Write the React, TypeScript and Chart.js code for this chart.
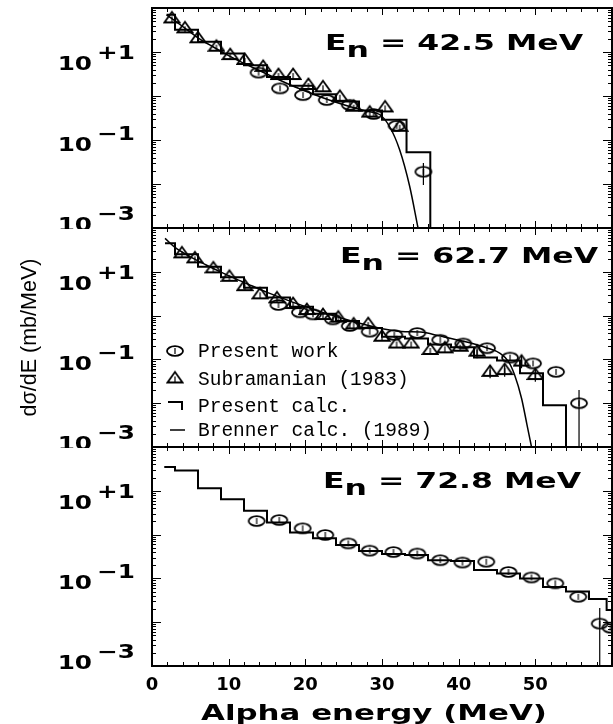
import React, { useEffect, useRef } from 'react';
import { Chart, registerables } from 'chart.js';

Chart.register(...registerables);

// ---------------- axes ----------------
const X_MIN = 0;
const X_MAX = 60;
const X_LABEL_STEP = 10;
const X_MINOR_STEP = 2;
const Y_MIN = 1e-3;
const Y_MAX = 1e2;
const Y_LABEL_EXPONENTS = [1, -1, -3];

const PANEL_ENERGIES = ['42.5', '62.7', '72.8'];
const LEGEND_LABELS = ['Present work', 'Subramanian (1983)', 'Present calc.', 'Brenner calc. (1989)'];
const X_TITLE = 'Alpha energy (MeV)';
const Y_TITLE = 'dσ/dE (mb/MeV)';

// ---------------- panel 1 : En = 42.5 MeV ----------------
const P1_WORK_X = [13.9, 16.7, 19.7, 22.8, 25.8, 28.9, 31.9, 35.4];
const P1_WORK_Y = [3.4, 1.49, 1.05, 0.81, 0.63, 0.39, 0.21, 0.019];
const P1_SUB_X = [2.6, 4.3, 6.0, 8.4, 10.2, 12.1, 14.5, 16.5, 18.4, 20.4, 22.3, 24.5, 26.3, 28.4, 30.4, 32.3];
const P1_SUB_Y = [58, 34.5, 20.5, 13.2, 8.5, 6.6, 4.6, 3.0, 3.0, 1.78, 1.58, 0.96, 0.57, 0.42, 0.55, 0.2];
const P1_CALC_X = [1.9, 3, 6, 9, 12, 15, 18, 21, 24, 27, 30, 33.2, 36.3];
const P1_CALC_Y = [70, 32, 17, 9.3, 5.0, 2.7, 1.7, 1.1, 0.75, 0.47, 0.29, 0.053, 0.0001];
const P1_BRENNER_X = [1.9, 4, 6, 8, 10, 12, 14, 16, 18, 20, 22, 24, 26, 28, 29.7, 31, 32.3, 33.6, 34.7];
const P1_BRENNER_Y = [70, 38, 21, 13, 8.3, 5.5, 3.8, 2.6, 1.8, 1.3, 0.95, 0.72, 0.56, 0.45, 0.38, 0.2, 0.06, 0.009, 0.001];
const P1_ERR_X = [35.4];
const P1_ERR_LO = [0.0095];
const P1_ERR_HI = [0.03];

// ---------------- panel 2 : En = 62.7 MeV ----------------
const P2_WORK_X = [16.5, 19.3, 21.0, 23.6, 25.8, 28.4, 31.6, 34.6, 37.6, 40.6, 43.7, 46.7, 49.7, 52.7, 55.7];
const P2_WORK_Y = [1.75, 1.19, 1.07, 0.82, 0.58, 0.43, 0.36, 0.4, 0.28, 0.23, 0.18, 0.11, 0.081, 0.052, 0.01];
const P2_SUB_X = [3.9, 5.6, 8.0, 10.1, 12.1, 14.1, 16.3, 18.4, 20.2, 22.3, 24.3, 26.3, 28.2, 30.0, 31.9, 33.8, 36.3, 38.2, 40.2, 42.4, 44.1, 46.0, 48.2, 50.0];
const P2_SUB_Y = [26.4, 20.3, 12.0, 7.7, 4.7, 3.06, 2.48, 1.84, 1.34, 1.03, 0.9, 0.63, 0.64, 0.33, 0.23, 0.23, 0.164, 0.179, 0.195, 0.15, 0.052, 0.057, 0.089, 0.044];
const P2_CALC_X = [1.7, 3, 6, 9, 12, 15, 18, 21, 24, 27, 30, 33, 36, 39, 42, 45, 48, 51, 54];
const P2_CALC_Y = [45, 25, 13, 7.5, 4.3, 2.6, 1.6, 1.1, 0.75, 0.52, 0.33, 0.3, 0.22, 0.19, 0.11, 0.095, 0.048, 0.009, 0.0001];
const P2_BRENNER_X = [1.7, 3, 5, 7, 9, 11, 13, 15, 17, 19, 21, 23, 25, 27, 29, 31, 33, 35, 37.6, 40.6, 43.6, 45.4, 46.5, 47.3, 48.2, 48.9, 49.5];
const P2_BRENNER_Y = [58, 36, 22, 14.5, 9.8, 6.8, 4.8, 3.4, 2.5, 1.85, 1.4, 1.08, 0.85, 0.68, 0.55, 0.47, 0.43, 0.42, 0.34, 0.26, 0.185, 0.138, 0.089, 0.044, 0.013, 0.0033, 0.001];
const P2_ERR_X = [42.4, 44.1, 46.0, 48.2, 50.0, 55.7];
const P2_ERR_LO = [0.106, 0.037, 0.04, 0.063, 0.031, 0.0001];
const P2_ERR_HI = [0.212, 0.073, 0.08, 0.126, 0.062, 0.02];

// ---------------- panel 3 : En = 72.8 MeV ----------------
const P3_WORK_X = [13.65, 16.6, 19.65, 22.6, 25.6, 28.4, 31.5, 34.6, 37.6, 40.5, 43.6, 46.5, 49.5, 52.6, 55.6, 58.4, 59.8];
const P3_WORK_Y = [2.04, 2.15, 1.39, 0.98, 0.63, 0.43, 0.4, 0.37, 0.26, 0.23, 0.24, 0.14, 0.105, 0.077, 0.038, 0.0093, 0.0075];
const P3_CALC_X = [1.6, 3, 6, 9, 12, 15, 18, 21, 24, 27, 30, 33, 36, 39, 42, 45, 48, 51, 54, 57, 59.3, 60];
const P3_CALC_Y = [35, 29, 11.4, 6.4, 3.5, 1.9, 1.12, 0.83, 0.58, 0.42, 0.36, 0.34, 0.26, 0.25, 0.155, 0.13, 0.1, 0.064, 0.05, 0.034, 0.019, 0.019];
const P3_ERR_X = [58.4];
const P3_ERR_LO = [0.0001];
const P3_ERR_HI = [0.021];

// ---------------- layout (page pixels) ----------------
const W = 613;
const Y_AXIS_W = 152;
const X_AXIS_H = 58;
const PANELS_GEOM = [
  { top: 0, height: 229, padTop: 8, padBottom: 1, labelDx: 173, labelDy: 42 },
  { top: 227, height: 221, padTop: 1, padBottom: 1, labelDx: 188, labelDy: 35 },
  { top: 446, height: 278, padTop: 1, padBottom: 0, labelDx: 171, labelDy: 41 },
];
const Y_LABEL_SHIFT = [11, 4, -4];

const BOLD = "'DejaVu Sans'";

function pts(xs: number[], ys: number[]) {
  return xs.map((x, i) => ({ x, y: ys[i] }));
}
function errPts(xs: number[], lo: number[], hi: number[]) {
  const out: any[] = [];
  xs.forEach((x, i) => {
    out.push({ x, y: lo[i] }, { x, y: hi[i] }, { x, y: null });
  });
  return out;
}

function drawText(ctx: CanvasRenderingContext2D, text: string, x: number, y: number, font: string, sx: number, align: string = 'left') {
  ctx.save();
  ctx.font = font;
  ctx.textBaseline = 'alphabetic';
  ctx.textAlign = 'left';
  const w = ctx.measureText(text).width * sx;
  let x0 = x;
  if (align === 'center') x0 = x - w / 2;
  else if (align === 'right') x0 = x - w;
  ctx.translate(x0, y);
  ctx.scale(sx, 1);
  ctx.fillText(text, 0, 0);
  ctx.restore();
  return w;
}

function makeEllipse() {
  const c = document.createElement('canvas');
  c.width = 20;
  c.height = 14;
  const g = c.getContext('2d')!;
  g.strokeStyle = '#000';
  g.lineWidth = 1.8;
  g.beginPath();
  g.ellipse(10, 7, 8, 4.8, 0, 0, Math.PI * 2);
  g.stroke();
  g.lineWidth = 1.2;
  g.beginPath();
  g.moveTo(10, 4);
  g.lineTo(10, 10);
  g.stroke();
  return c;
}

function makeTriangle() {
  const c = document.createElement('canvas');
  c.width = 18;
  c.height = 18;
  const g = c.getContext('2d')!;
  g.strokeStyle = '#000';
  g.lineWidth = 1.8;
  g.lineJoin = 'miter';
  g.beginPath();
  g.moveTo(9, 2.5);
  g.lineTo(1.5, 13);
  g.lineTo(16.5, 13);
  g.closePath();
  g.stroke();
  g.lineWidth = 1.2;
  g.beginPath();
  g.moveTo(9, 7);
  g.lineTo(9, 13);
  g.stroke();
  return c;
}

type PanelData = {
  workX: number[]; workY: number[];
  subX?: number[]; subY?: number[];
  calcX: number[]; calcY: number[];
  brX?: number[]; brY?: number[];
  errX: number[]; errLo: number[]; errHi: number[];
};

const PANEL_DATA: PanelData[] = [
  { workX: P1_WORK_X, workY: P1_WORK_Y, subX: P1_SUB_X, subY: P1_SUB_Y, calcX: P1_CALC_X, calcY: P1_CALC_Y, brX: P1_BRENNER_X, brY: P1_BRENNER_Y, errX: P1_ERR_X, errLo: P1_ERR_LO, errHi: P1_ERR_HI },
  { workX: P2_WORK_X, workY: P2_WORK_Y, subX: P2_SUB_X, subY: P2_SUB_Y, calcX: P2_CALC_X, calcY: P2_CALC_Y, brX: P2_BRENNER_X, brY: P2_BRENNER_Y, errX: P2_ERR_X, errLo: P2_ERR_LO, errHi: P2_ERR_HI },
  { workX: P3_WORK_X, workY: P3_WORK_Y, calcX: P3_CALC_X, calcY: P3_CALC_Y, errX: P3_ERR_X, errLo: P3_ERR_LO, errHi: P3_ERR_HI },
];

function buildChart(canvas: HTMLCanvasElement, idx: number, ell: HTMLCanvasElement, tri: HTMLCanvasElement) {
  const d = PANEL_DATA[idx];
  const geom = PANELS_GEOM[idx];
  const showX = idx === 2;
  const datasets: any[] = [];

  datasets.push({
    data: pts(d.workX, d.workY), showLine: false, pointStyle: ell, pointRadius: 6, borderColor: '#000', backgroundColor: '#000',
  });
  if (d.subX && d.subY) {
    datasets.push({
      data: pts(d.subX, d.subY), showLine: false, pointStyle: tri, pointRadius: 6, borderColor: '#000', backgroundColor: '#000',
    });
  }
  datasets.push({
    data: pts(d.calcX, d.calcY), stepped: true, borderColor: '#000', borderWidth: 2, pointRadius: 0, fill: false,
  });
  if (d.brX && d.brY) {
    datasets.push({
      data: pts(d.brX, d.brY), borderColor: '#000', borderWidth: 1.5, pointRadius: 0, fill: false,
      tension: 0.4, cubicInterpolationMode: 'monotone',
    });
  }
  datasets.push({
    data: errPts(d.errX, d.errLo, d.errHi), borderColor: '#000', borderWidth: 1.2, pointRadius: 0, spanGaps: false, fill: false,
  });

  const deco = {
    id: 'deco' + idx,
    afterDraw(chart: any) {
      const ctx: CanvasRenderingContext2D = chart.ctx;
      const { left, right, top, bottom } = chart.chartArea;
      const xs = chart.scales.x;
      const ys = chart.scales.y;
      ctx.save();
      ctx.strokeStyle = '#000';
      ctx.fillStyle = '#000';
      ctx.lineWidth = 1;
      ctx.beginPath();
      for (let e = Math.round(Math.log10(Y_MIN)); e <= Math.round(Math.log10(Y_MAX)); e++) {
        for (let m = 1; m <= 9; m++) {
          const v = m * Math.pow(10, e);
          if (v > Y_MAX * 1.0001) break;
          const py = Math.round(ys.getPixelForValue(v)) + 0.5;
          const len = m === 1 ? 9 : 4;
          ctx.moveTo(left, py); ctx.lineTo(left + len, py);
          ctx.moveTo(right, py); ctx.lineTo(right - len, py);
        }
      }
      for (let v = X_MIN; v <= X_MAX + 1e-9; v += X_MINOR_STEP) {
        const px = Math.round(xs.getPixelForValue(v)) + 0.5;
        const len = v % X_LABEL_STEP === 0 ? 7 : 4;
        ctx.moveTo(px, bottom); ctx.lineTo(px, bottom - len);
        ctx.moveTo(px, top); ctx.lineTo(px, top + len);
      }
      ctx.stroke();
      ctx.lineWidth = 2;
      ctx.strokeRect(left, top, right - left, bottom - top);

      // y tick labels 10^n
      const f19 = `bold 19px ${BOLD}`;
      Y_LABEL_EXPONENTS.forEach((e, i) => {
        const ty = ys.getPixelForValue(Math.pow(10, e));
        const base = ty + Y_LABEL_SHIFT[i] + 7;
        drawText(ctx, '10', left - 60, base, f19, 1.3, 'right');
        drawText(ctx, (e > 0 ? '+' : '\u2212') + Math.abs(e), left - 55, base - 11, f19, 1.3, 'left');
      });

      // panel label E_n = ...
      const f21 = `bold 21px ${BOLD}`;
      let lx = left + geom.labelDx;
      const lb = top + geom.labelDy;
      lx += drawText(ctx, 'E', lx, lb, f21, 1.5);
      lx += drawText(ctx, 'n', lx, lb + 7, f21, 1.5);
      drawText(ctx, ' = ' + PANEL_ENERGIES[idx] + ' MeV', lx, lb, f21, 1.5);

      if (idx === 1) {
        // legend
        const mx = left + 23;
        const tx = left + 46;
        const rows = [123, 151, 178, 202].map((r) => top + r);
        ctx.drawImage(ell, mx - 10, rows[0] - 7);
        ctx.drawImage(tri, mx - 9, rows[1] - 9.5);
        ctx.lineWidth = 2;
        ctx.beginPath();
        ctx.moveTo(mx - 7, rows[2] - 4);
        ctx.lineTo(mx + 7, rows[2] - 4);
        ctx.lineTo(mx + 7, rows[2] + 4);
        ctx.stroke();
        ctx.lineWidth = 1.5;
        ctx.beginPath();
        ctx.moveTo(mx - 5, rows[3]);
        ctx.lineTo(mx + 10, rows[3]);
        ctx.stroke();
        ctx.font = "19.5px 'Liberation Mono'";
        ctx.textBaseline = 'middle';
        ctx.textAlign = 'left';
        LEGEND_LABELS.forEach((t, i) => ctx.fillText(t, tx, rows[i] + 1));

        // y title
        ctx.save();
        ctx.translate(30, (top + bottom) / 2);
        ctx.rotate(-Math.PI / 2);
        ctx.font = "21.5px 'Liberation Sans'";
        ctx.textAlign = 'center';
        ctx.textBaseline = 'middle';
        ctx.fillText(Y_TITLE, 0, 0);
        ctx.restore();
      }
      if (showX) {
        drawText(ctx, X_TITLE, left + 222, bottom + 54, `bold 21px ${BOLD}`, 1.47, 'center');
      }
      ctx.restore();
    },
  };

  return new Chart(canvas, {
    type: 'line',
    data: { datasets },
    plugins: [deco],
    options: {
      animation: false,
      responsive: false,
      maintainAspectRatio: false,
      devicePixelRatio: 1,
      layout: { autoPadding: false, padding: { top: geom.padTop, bottom: geom.padBottom, left: 0, right: 1 } },
      plugins: { legend: { display: false }, tooltip: { enabled: false } },
      scales: {
        x: {
          type: 'linear',
          min: X_MIN,
          max: X_MAX,
          display: showX,
          grid: { display: false, drawTicks: false },
          border: { display: false },
          ticks: {
            stepSize: X_LABEL_STEP,
            autoSkip: false,
            maxRotation: 0,
            padding: 9,
            color: '#000',
            font: { family: BOLD, size: 18, weight: 'bold' },
            callback: (v: any) => (v >= X_MAX ? '' : String(v)),
          },
          afterFit: (s: any) => {
            s.height = showX ? X_AXIS_H : 0;
            s.paddingLeft = 0;
            s.paddingRight = 0;
            s.paddingTop = 0;
            s.paddingBottom = 0;
          },
        },
        y: {
          type: 'logarithmic',
          min: Y_MIN,
          max: Y_MAX,
          grid: { display: false, drawTicks: false },
          border: { display: false },
          ticks: { display: false },
          afterFit: (s: any) => {
            s.width = Y_AXIS_W;
            s.paddingTop = 0;
            s.paddingBottom = 0;
            s.paddingLeft = 0;
            s.paddingRight = 0;
          },
        },
      },
    } as any,
  });
}

export default function App() {
  const r1 = useRef<HTMLCanvasElement>(null);
  const r2 = useRef<HTMLCanvasElement>(null);
  const r3 = useRef<HTMLCanvasElement>(null);

  useEffect(() => {
    const ell = makeEllipse();
    const tri = makeTriangle();
    const charts = [r1, r2, r3].map((r, i) => buildChart(r.current!, i, ell, tri));
    return () => charts.forEach((c) => c.destroy());
  }, []);

  const refs = [r1, r2, r3];
  return (
    <div style={{ position: 'absolute', left: 0, top: 0, width: W, height: 724, background: '#fff' }}>
      {PANELS_GEOM.map((g, i) => (
        <canvas
          key={i}
          ref={refs[i]}
          width={W}
          height={g.height}
          style={{ position: 'absolute', left: 0, top: g.top, width: W, height: g.height }}
        />
      ))}
    </div>
  );
}
